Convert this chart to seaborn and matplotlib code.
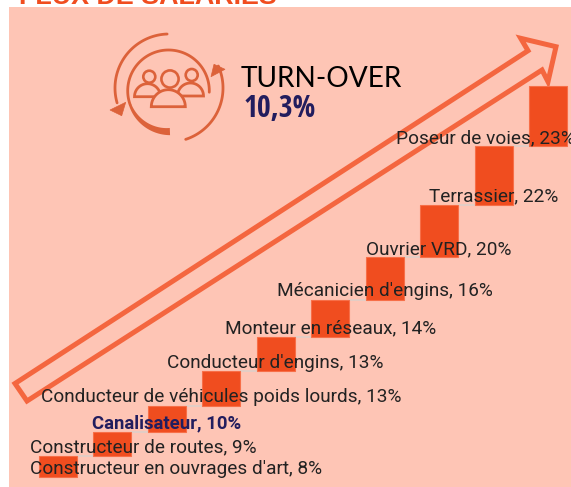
import numpy as np
import pandas as pd
import matplotlib
matplotlib.use("Agg")
import matplotlib.pyplot as plt
from matplotlib.patches import Polygon, Circle
from matplotlib.transforms import Affine2D
import seaborn as sns

jobs = ["Constructeur en ouvrages d'art", "Constructeur de routes", "Canalisateur",
        "Conducteur de véhicules poids lourds", "Conducteur d'engins", "Monteur en réseaux",
        "Mécanicien d'engins", "Ouvrier VRD", "Terrassier", "Poseur de voies"]
rates = [8, 9, 10, 13, 13, 14, 16, 20, 22, 23]
highlighted = "Canalisateur"
title = "FLUX DE SALARIÉS"
kpi_name = "TURN-OVER"
kpi_value = "10,3%"

BG, BAR, EDGE, LINE, ICON, NAVY, INK = "#fec5b5", "#f04d1f", "#f76f48", "#f4663f", "#dc623a", "#221d5e", "#222222"
W, H = 571, 487

sns.set_theme(style="white")
plt.rcParams["font.family"] = ["Roboto", "DejaVu Sans"]
fig = plt.figure(figsize=(W / 100, H / 100), dpi=100, facecolor="white")
ax = fig.add_axes([9 / W, 0, (W - 9) / W, (H - 7) / H], facecolor=BG)

df = pd.DataFrame({"job": jobs, "rate": rates})
tops = np.cumsum(rates)
bottoms = tops - df["rate"].to_numpy()
sns.barplot(data=df, x="job", y="rate", order=jobs, bottom=bottoms, color=BAR, saturation=1,
            width=0.706, edgecolor=EDGE, linewidth=0.8, ax=ax, zorder=3)

# pixel space, origin top-left (for the decorative arrow and icon)
px = Affine2D().scale(1, -1).translate(0, H)

# connectors
for i in range(len(jobs) - 1):
    ax.plot([i + 0.353, i + 1 - 0.353], [tops[i], tops[i]], color="#dcd0ca", lw=1.1, zorder=2)

# large arrow
arrow = [(15, 383.5), (528, 50.7), (520.7, 38.3), (556, 46.7), (548, 81.7), (542, 70), (27, 401)]
ax.add_patch(Polygon(arrow, closed=True, fill=False, ec=LINE, lw=3.6, joinstyle="miter",
                     transform=px, clip_on=False, zorder=1))

# icon
def arc(cx, cy, r, a0, a1, n=80):
    t = np.radians(np.linspace(a0, a1, n))
    return cx + r * np.cos(t), cy - r * np.sin(t)

def line(x, y, lw):
    ax.plot(x, y, color=ICON, lw=lw, transform=px, clip_on=False, zorder=1, solid_capstyle="round")

def tri(pts):
    ax.add_patch(Polygon(pts, closed=True, fc=ICON, ec=ICON, lw=0.5, transform=px, zorder=1))

line(*arc(169, 88, 54, 92, 196), 2.0)
tri([(110, 110), (125.7, 102.3), (121.7, 115.7)])
line(*arc(169, 88, 54, -72, 24), 2.0)
tri([(211, 76.7), (214, 64.3), (225, 69.3)])
cx, cy = 168.5, 90.8
line(*arc(cx, cy, 40.8, -2, 200), 2.0)
t = np.linspace(200, 272, 30)
th = np.linspace(1.3, 3.6, 30)
rad = np.radians(t)
outer = np.c_[cx + (40.8 + th) * np.cos(rad), cy - (40.8 + th) * np.sin(rad)]
inner = np.c_[cx + (40.8 - th) * np.cos(rad), cy - (40.8 - th) * np.sin(rad)]
ax.add_patch(Polygon(np.r_[outer, inner[::-1]], closed=True, fc=ICON, ec="none", transform=px, zorder=1))

for c, r in [((149.3, 76.7), 6), ((191.7, 75), 6), ((170, 79), 8.6)]:
    ax.add_patch(Circle(c, r, fill=False, ec=ICON, lw=1.9, transform=px, zorder=1))
for (c, r) in [((147.5, 96.7), 13), ((190.5, 96), 13), ((168.3, 106.7), 17)]:
    x, y = arc(c[0], c[1], r, 0, 180, 30)
    ax.add_patch(Polygon(np.c_[x, y], closed=True, fc=BG, ec=ICON, lw=2.0, transform=px, zorder=1))

# data labels
shift = {jobs[0]: 118.5, jobs[1]: 31, jobs[-1]: -63}
for i, (job, rate) in enumerate(zip(jobs, rates)):
    is_hl = job == highlighted
    ax.annotate(f"{job}, {rate}%", xy=(i, bottoms[i]), xytext=(shift.get(job, 0), 10.5),
                textcoords="offset pixels", ha="center", va="center_baseline",
                fontsize=13.3 if is_hl else 13.65,
                color=NAVY if is_hl else INK, fontweight="bold" if is_hl else "normal",
                zorder=6, annotation_clip=False)

ax.set_xlim((9 - 57.75) / 54.5, (W - 57.75) / 54.5)
ax.set_ylim(-10 / 2.645, (477 - 7) / 2.645)
ax.set_axis_off()
ax.add_patch(plt.Rectangle((0, 0), 1, 1, transform=ax.transAxes, fc=BG, ec="none", zorder=0))

fig.text(148 / W, 1 - 3.5 / H, title, color=BAR, fontsize=19.4, fontweight="bold", ha="center",
         va="baseline", family=["Liberation Sans", "DejaVu Sans"])
fig.text(241 / W, 1 - 87 / H, kpi_name, color="black", fontsize=20.2, ha="left", va="baseline",
         family=["Lato", "DejaVu Sans"], fontweight="normal")
fig.text(244 / W, 1 - 117 / H, kpi_value, color=NAVY, fontsize=21.5, ha="left", va="baseline",
         family=["Open Sans Condensed", "Roboto Condensed"], fontweight="bold")

fig.savefig("out.png", dpi=100)
